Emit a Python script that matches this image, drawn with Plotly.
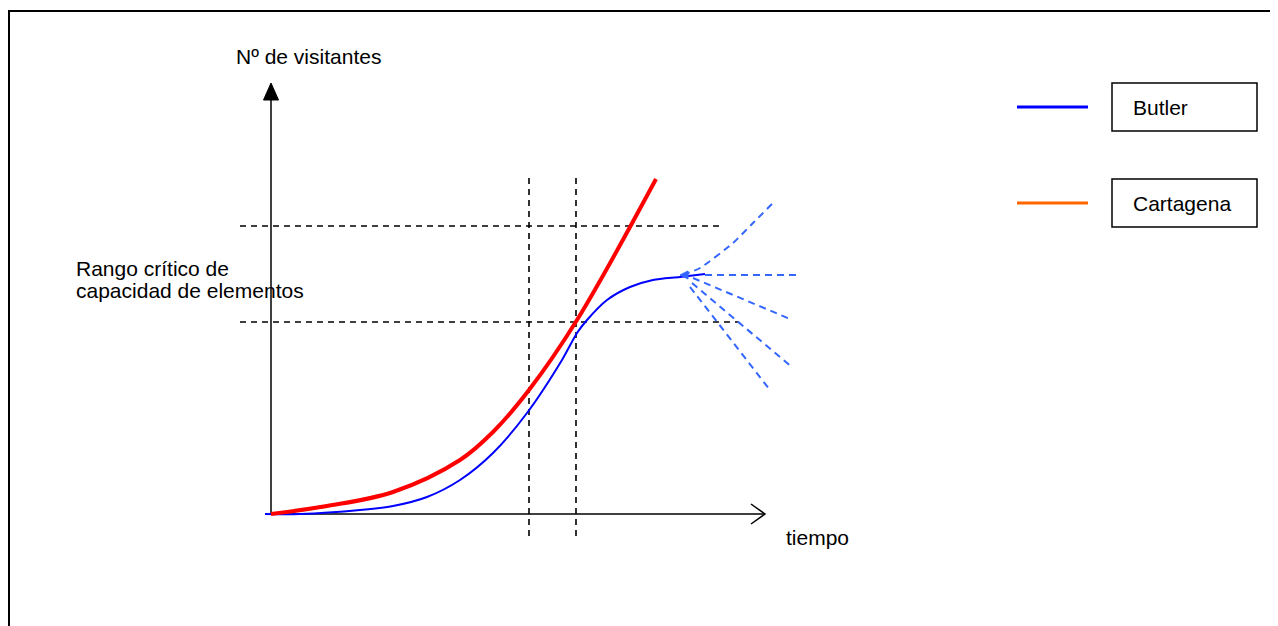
import plotly.graph_objects as go

W, H = 1278, 626
OFF = 8               # page body margin of the browser
OX, OY = 271, 514     # screen pixel position of the chart origin

# ---------------- data (units measured from the origin) ----------------
red_t = [0, 56, 122, 189, 222, 258, 306, 385]
red_v = [0, 8, 22, 54, 82, 124, 194, 335]

blue_t = [-6, 29, 89, 122, 156, 189, 222, 256, 291, 306, 316, 336, 359, 382, 409, 434]
blue_v = [0, 0, 4, 8, 17, 34, 61, 101, 154, 181, 194, 214, 227, 234, 237, 240]

# future scenarios (dashed blue)
scen_up_t = [412, 429, 462, 482, 502]
scen_up_v = [239, 246, 271, 291, 311]
scen_flat_t = [434, 526]
scen_flat_v = [239, 239]
scen_d1_t = [422, 519]
scen_d1_v = [236, 195]
scen_d2_t = [421, 522]
scen_d2_v = [231, 146]
scen_d3_t = [419, 499]
scen_d3_v = [227, 124]

# critical range of capacity
crit_v = [192, 288]
crit_t_start = -31
crit_t_end = [467, 451]
# critical time period
crit_t = [258, 305]
crit_v_extent = [-22, 336]

# axis extents
x_axis_end = 494
y_axis_end = 431

series_names = ["Butler", "Cartagena"]
series_colors = ["#0000FF", "#FF6600"]

FONT = "Liberation Sans, Arial, sans-serif"

fig = go.Figure()

# main curves
fig.add_trace(go.Scatter(x=blue_t, y=blue_v, mode="lines",
                         line=dict(color="#0000FF", width=2, shape="spline", smoothing=0.8), hoverinfo="skip"))
for tt, vv in [(scen_up_t, scen_up_v), (scen_flat_t, scen_flat_v), (scen_d1_t, scen_d1_v),
               (scen_d2_t, scen_d2_v), (scen_d3_t, scen_d3_v)]:
    fig.add_trace(go.Scatter(x=tt, y=vv, mode="lines",
                             line=dict(color="#3366FF", width=2, dash="7px,5px", shape="spline", smoothing=0.6),
                             hoverinfo="skip"))
fig.add_trace(go.Scatter(x=red_t, y=red_v, mode="lines",
                         line=dict(color="#FF0000", width=4, shape="spline", smoothing=1.0), hoverinfo="skip"))

shapes = []
# critical range dashed lines
for v, te in zip(crit_v, crit_t_end):
    shapes.append(dict(type="line", xref="x", yref="y", x0=crit_t_start, x1=te, y0=v, y1=v,
                       line=dict(color="black", width=1.6, dash="6px,5px"), layer="below"))
for t in crit_t:
    shapes.append(dict(type="line", xref="x", yref="y", x0=t, x1=t, y0=crit_v_extent[0], y1=crit_v_extent[1],
                       line=dict(color="black", width=1.6, dash="6px,5px"), layer="below"))
# axes
shapes.append(dict(type="line", xref="x", yref="y", x0=0, x1=x_axis_end, y0=0, y1=0,
                   line=dict(color="black", width=1.5), layer="below"))
shapes.append(dict(type="line", xref="x", yref="y", x0=0, x1=0, y0=0, y1=y_axis_end - 14,
                   line=dict(color="black", width=1.5), layer="below"))
# y arrowhead (filled)
shapes.append(dict(type="path", xref="x", yref="y",
                   path=f"M 0,{y_axis_end} L -7.5,{y_axis_end-17} L 7.5,{y_axis_end-17} Z",
                   fillcolor="black", line=dict(color="black", width=1)))
# x arrowhead (open chevron)
shapes.append(dict(type="path", xref="x", yref="y",
                   path=f"M {x_axis_end-14},10 L {x_axis_end},0 L {x_axis_end-14},-10",
                   line=dict(color="black", width=1.5)))
# small arrowhead on blue curve where scenarios fork
tip_t, tip_v = scen_up_t[0] - 3, scen_up_v[0]
shapes.append(dict(type="path", xref="x", yref="y",
                   path=f"M {tip_t},{tip_v} L {tip_t+8},{tip_v+4} L {tip_t+8},{tip_v-4} Z",
                   fillcolor="#3366FF", line=dict(color="#3366FF", width=1)))


def px(x):
    return (x - OFF) / W


def py(y):
    return 1 - (y - OFF) / H


# outer frame (left and top edges; the rest lies outside the picture)
shapes.append(dict(type="line", xref="paper", yref="paper", x0=px(9), x1=px(9), y0=py(10), y1=py(700),
                   line=dict(color="black", width=2)))
shapes.append(dict(type="line", xref="paper", yref="paper", x0=px(8), x1=px(1300), y0=py(11), y1=py(11),
                   line=dict(color="black", width=2)))

annotations = []
# legend
leg_y = [107, 203]
for name, col, ly in zip(series_names, series_colors, leg_y):
    shapes.append(dict(type="line", xref="paper", yref="paper", x0=px(1017), x1=px(1088), y0=py(ly), y1=py(ly),
                       line=dict(color=col, width=3)))
    shapes.append(dict(type="rect", xref="paper", yref="paper", x0=px(1112), x1=px(1257),
                       y0=py(ly - 24), y1=py(ly + 24), line=dict(color="black", width=1.5)))
    annotations.append(dict(xref="paper", yref="paper", x=px(1133), y=py(ly), text=name, showarrow=False,
                            xanchor="left", yanchor="middle", xshift=-2,
                            font=dict(family=FONT, size=21, color="black")))

# labels
labels = [
    ("Nº de visitantes", 236, 57),
    ("tiempo", 786, 537),
    ("Rango crítico de", 76, 268),
    ("capacidad de elementos", 76, 291),
]
for txt, lx, ly in labels:
    annotations.append(dict(xref="paper", yref="paper", x=px(lx), y=py(ly), text=txt, showarrow=False,
                            xanchor="left", yanchor="middle", xshift=-2,
                            font=dict(family=FONT, size=21, color="black")))

fig.update_layout(
    width=W, height=H,
    margin=dict(l=0, r=0, t=0, b=0),
    paper_bgcolor="white", plot_bgcolor="white",
    showlegend=False,
    xaxis=dict(range=[-(OX - OFF), W - (OX - OFF)], visible=False, fixedrange=True),
    yaxis=dict(range=[(OY - OFF) - H, OY - OFF], visible=False, fixedrange=True),
    shapes=shapes,
    annotations=annotations,
)

fig.write_html("out.html", config={"displayModeBar": False})
